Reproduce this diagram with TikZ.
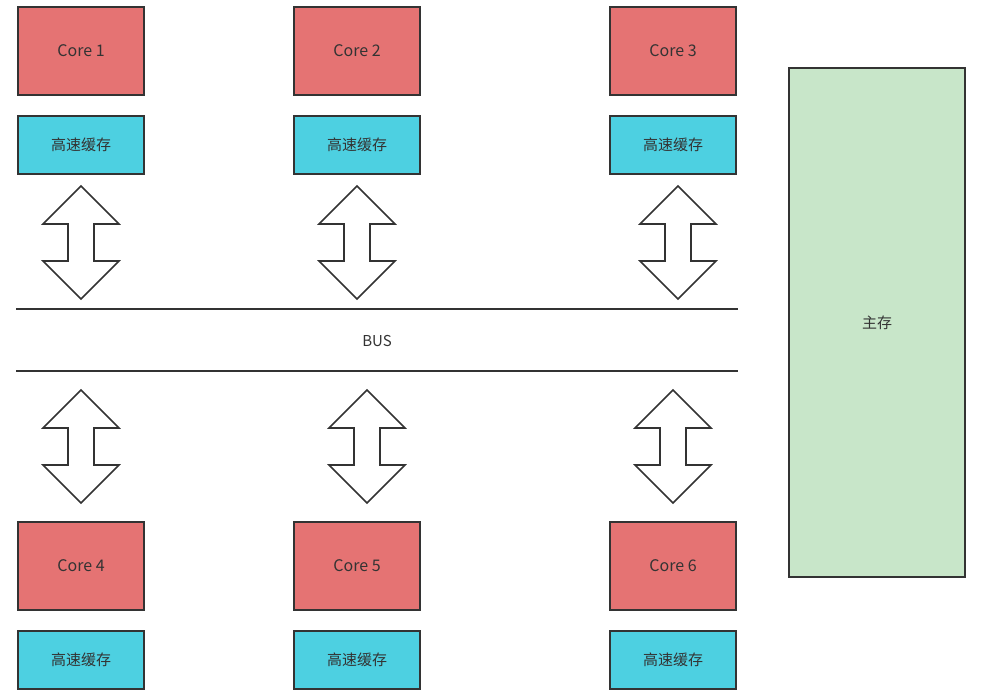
\documentclass[tikz,border=0pt]{standalone}
\usepackage{fontspec}
\setmainfont{Noto Sans CJK SC}
\usetikzlibrary{calc}
\definecolor{corered}{RGB}{229,115,115}
\definecolor{cachecyan}{RGB}{77,208,225}
\definecolor{memgreen}{RGB}{200,230,201}
\definecolor{ink}{RGB}{51,51,51}
\tikzset{core/.style={draw=ink, line width=2pt, fill=corered, minimum width=126pt, minimum height=88pt, text=ink, font=\fontsize{16}{16}\selectfont}}
\tikzset{cache/.style={draw=ink, line width=2pt, fill=cachecyan, minimum width=126pt, minimum height=58pt, text=ink, font=\fontsize{15}{15}\selectfont}}
\tikzset{mem/.style={draw=ink, line width=2pt, fill=memgreen, minimum width=176pt, minimum height=509pt, text=ink, font=\fontsize{15}{15}\selectfont}}
\tikzset{bus/.style={draw=ink, line width=2pt}}
\tikzset{dbl/.style={draw=ink, line width=1.6pt, fill=white, line join=miter}}
\newcommand{\dblarrow}[3]{%
  \draw [dbl] (#1,#2)--++(38,38)--++(-25,0)--(#1+13,#3-38)--++(25,0)--(#1,#3)
    --++(-38,-38)--++(25,0)--(#1-13,#2+38)--++(-25,0)--cycle;}

\begin{document}
\begin{tikzpicture}[x=1pt,y=-1pt]
  \useasboundingbox (0,0) rectangle (985,694);
  \node [core] (c1) at (81,51) {Core 1};
  \node [core] (c2) at (357,51) {Core 2};
  \node [core] (c3) at (673,51) {Core 3};
  \node [cache] (k1) at (81,145) {高速缓存};
  \node [cache] (k2) at (357,145) {高速缓存};
  \node [cache] (k3) at (673,145) {高速缓存};
  \node [core] (c4) at (81,565.5) {Core 4};
  \node [core] (c5) at (357,565.5) {Core 5};
  \node [core] (c6) at (673,565.5) {Core 6};
  \node [cache] (k4) at (81,660) {高速缓存};
  \node [cache] (k5) at (357,660) {高速缓存};
  \node [cache] (k6) at (673,660) {高速缓存};
  \node [mem] (ram) at (877,322.5) {主存};
  \draw [bus] (16,309)--(738,309);
  \draw [bus] (16,371)--(738,371);
  \node [text=ink, font=\fontsize{15}{15}\selectfont] (bus) at (377,341) {BUS};
  \foreach \x in {81,357,678} {\dblarrow{\x}{186}{299}}
  \foreach \x in {81,367,673} {\dblarrow{\x}{390}{503}}
\end{tikzpicture}
\end{document}
